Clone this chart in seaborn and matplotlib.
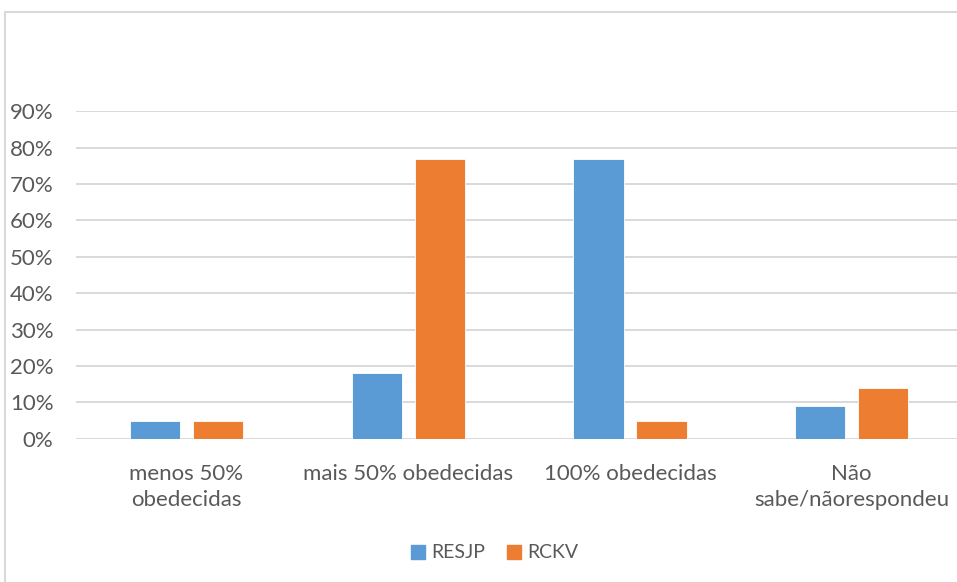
import matplotlib
matplotlib.use("Agg")
import matplotlib.pyplot as plt
from matplotlib.patches import Rectangle
from matplotlib.ticker import FuncFormatter
import pandas as pd
import seaborn as sns

categories = ["menos 50%\nobedecidas", "mais 50% obedecidas", "100% obedecidas", "Não\nsabe/nãorespondeu"]
series_names = ["RESJP", "RCKV"]
resjp = [0.05, 0.18, 0.77, 0.09]
rckv = [0.05, 0.77, 0.05, 0.14]
y_ticks = [0.0, 0.1, 0.2, 0.3, 0.4, 0.5, 0.6, 0.7, 0.8, 0.9]

df = pd.DataFrame({
    "categoria": categories * 2,
    "serie": [series_names[0]] * 4 + [series_names[1]] * 4,
    "valor": resjp + rckv,
})

sns.set_theme(style="white")
plt.rcParams["font.family"] = ["Lato", "DejaVu Sans"]
text_color = "#595959"
grid_color = "#d9d9d9"
palette = {"RESJP": "#5B9BD5", "RCKV": "#ED7D31"}

W, H = 957, 582
fig = plt.figure(figsize=(W / 100, H / 100), dpi=100)
ax = fig.add_axes([75.7 / W, 1 - 438.8 / H, 886.8 / W, 327.5 / H])

sns.barplot(data=df, x="categoria", y="valor", hue="serie", order=categories,
            hue_order=series_names, palette=palette, width=0.568, gap=0.2,
            saturation=1, edgecolor="#ffffff", linewidth=0.6, ax=ax, legend=False)

ax.set_xlim(-0.5, 3.5)
ax.set_ylim(0, 0.9)
ax.set_yticks(y_ticks)
ax.yaxis.set_major_formatter(FuncFormatter(lambda v, _: f"{round(v * 100)}%"))
ax.grid(axis="y", color=grid_color, linewidth=1.4)
ax.set_axisbelow(True)
for s in ax.spines.values():
    s.set_visible(False)
ax.tick_params(axis="y", length=0, pad=16, labelsize=16, labelcolor=text_color)
ax.tick_params(axis="x", length=0, pad=18, labelsize=16, labelcolor=text_color)
for lbl in ax.get_xticklabels():
    lbl.set_linespacing(1.4)
ax.set_xlabel("")
ax.set_ylabel("")

# legend below the plot area
handles = [Rectangle((0, 0), 1, 1, color=palette[n]) for n in series_names]
fig.legend(handles, series_names, loc="center", bbox_to_anchor=(495 / W, 1 - 553 / H),
           ncol=2, frameon=False, fontsize=14, labelcolor=text_color,
           handlelength=0.7, handleheight=0.7, handletextpad=0.35, columnspacing=1.1)

# chart frame
fig.patches.append(Rectangle((4.5 / W, -0.1), 1.2, 1 - 12 / H + 0.1, transform=fig.transFigure,
                             fill=False, edgecolor=grid_color, linewidth=1.5))

fig.savefig("out.png", dpi=100, facecolor="white")
